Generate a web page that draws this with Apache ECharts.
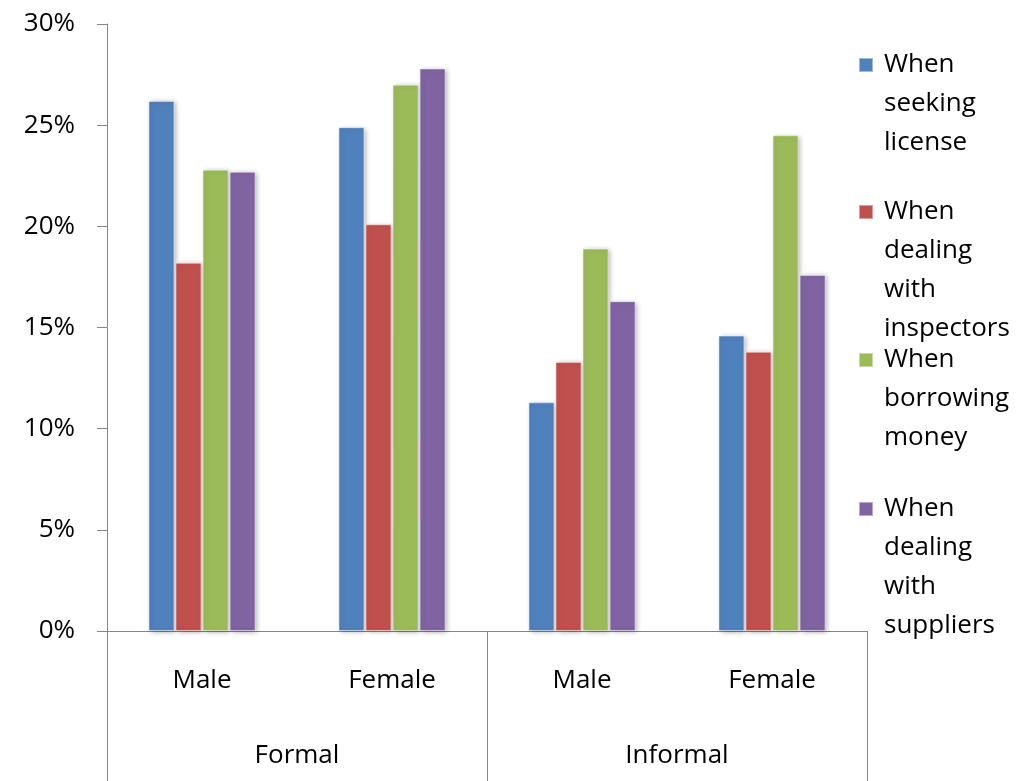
<!DOCTYPE html>
<html>
<head>
<meta charset="utf-8">
<script src="https://cdn.jsdelivr.net/npm/echarts@6/dist/echarts.min.js"></script>
<style>
  html, body { margin: 0; padding: 0; background: #fff; }
  #chart { width: 1034px; height: 781px; }
</style>
</head>
<body>
<div id="chart"></div>
<script>
  // categories (inner level) and groups (outer level)
  var categories = ['Male', 'Female', 'Male', 'Female'];
  var groups = ['Formal', 'Informal'];
  var yTicks = [0, 5, 10, 15, 20, 25, 30];

  // percent values
  var seekingLicense = [26.2, 24.9, 11.3, 14.6];
  var dealingInspectors = [18.2, 20.1, 13.3, 13.8];
  var borrowingMoney = [22.8, 27.0, 18.9, 24.5];
  var dealingSuppliers = [22.7, 27.8, 16.3, 17.6];

  var seriesNames = ['When seeking license', 'When dealing with inspectors', 'When borrowing money', 'When dealing with suppliers'];
  var seriesData = [seekingLicense, dealingInspectors, borrowingMoney, dealingSuppliers];
  var colors = ['#4F81BD', '#C0504D', '#9BBB59', '#8064A2'];

  var font = 'Open Sans';
  var fontSize = 26;
  var lineH = 39;
  var axisGray = '#868686';

  var dom = echarts.init(document.getElementById('chart'));

  var gridBox = { left: 107, right: 167, top: 24, bottom: 150 };

  // one legend per item; blank lines above the text keep the icon on the first line
  var legendIconY = [65, 212, 360, 509];
  var legends = seriesNames.map(function (name, i) {
    var words = name.split(' ');
    var n = words.length;
    return {
      data: [name],
      orient: 'vertical',
      left: 858,
      top: legendIconY[i] - (2 * n - 1) * lineH / 2,
      padding: 0,
      itemWidth: 14,
      itemHeight: 14,
      icon: 'rect',
      selectedMode: false,
      formatter: function (s) {
        var w = s.split(' ');
        var pad = [];
        for (var k = 1; k < w.length; k++) pad.push(' ');
        return pad.concat(w).join('\n');
      },
      textStyle: {
        fontFamily: font,
        fontSize: fontSize,
        color: '#000',
        lineHeight: lineH,
        padding: [0, 0, 0, 6]
      }
    };
  });

  var option = {
    animation: false,
    color: colors,
    legend: legends,
    grid: [
      Object.assign({}, gridBox),
      Object.assign({}, gridBox)
    ],
    xAxis: [
      {
        type: 'category',
        gridIndex: 0,
        data: categories,
        axisLine: { show: true, lineStyle: { color: axisGray, width: 1 } },
        axisTick: { show: false },
        axisLabel: { margin: 37, fontFamily: font, fontSize: fontSize, color: '#000' }
      },
      {
        type: 'category',
        gridIndex: 1,
        data: groups,
        position: 'bottom',
        axisLine: { show: false },
        axisTick: { show: true, length: 150, lineStyle: { color: axisGray, width: 1 } },
        axisLabel: { margin: 112, fontFamily: font, fontSize: fontSize, color: '#000' }
      }
    ],
    yAxis: [
      {
        type: 'value',
        gridIndex: 0,
        min: yTicks[0],
        max: yTicks[yTicks.length - 1],
        interval: 5,
        splitLine: { show: false },
        axisLine: { show: true, lineStyle: { color: axisGray, width: 1 } },
        axisTick: { show: true, length: 10, lineStyle: { color: axisGray } },
        axisLabel: {
          margin: 32,
          fontFamily: font,
          fontSize: fontSize,
          color: '#000',
          formatter: function (v) { return v + '%'; }
        }
      },
      {
        type: 'value',
        gridIndex: 1,
        show: false,
        min: 0,
        max: 30
      }
    ],
    series: seriesData.map(function (d, i) {
      return {
        name: seriesNames[i],
        type: 'bar',
        xAxisIndex: 0,
        yAxisIndex: 0,
        data: d,
        barWidth: 26,
        barGap: '4%',
        itemStyle: {
          color: colors[i],
          borderColor: 'rgba(255,255,255,0.45)',
          borderWidth: 1,
          shadowBlur: 5,
          shadowColor: 'rgba(0,0,0,0.3)',
          shadowOffsetX: 2,
          shadowOffsetY: 1
        }
      };
    })
  };

  dom.setOption(option);
  window.addEventListener('resize', function () { dom.resize(); });
</script>
</body>
</html>
